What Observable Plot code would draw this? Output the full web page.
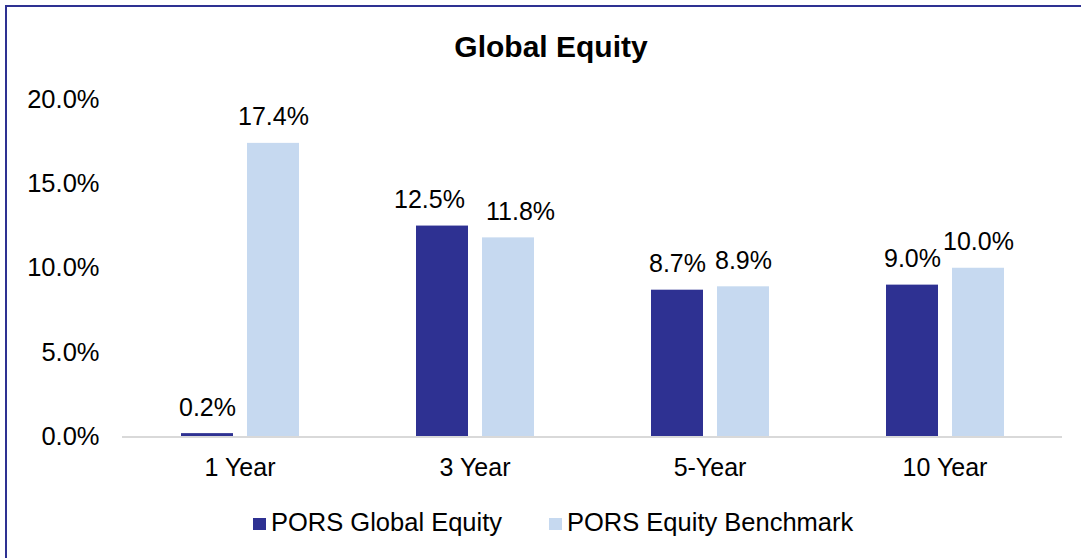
<!DOCTYPE html>
<html>
<head>
<meta charset="utf-8">
<script src="https://cdn.jsdelivr.net/npm/d3@7"></script>
<script src="https://cdn.jsdelivr.net/npm/@observablehq/plot@0.6"></script>
<style>
  html, body { margin: 0; padding: 0; background: #fff; }
  body { width: 1081px; height: 558px; overflow: hidden; position: relative; font-family: "Liberation Sans", Arial, sans-serif; }
  #frame { position: absolute; left: 5px; top: 5px; width: 1200px; height: 700px; border-left: 2px solid #2e3192; border-top: 2px solid #2e3192; box-sizing: border-box; }
  #title { position: absolute; left: 0; top: 32px; width: 1102px; text-align: center; font-size: 30px; line-height: 1; font-weight: bold; color: #000; }
  #chart { position: absolute; left: 0; top: 0; }
  .leg { position: absolute; top: 510px; font-size: 25.5px; line-height: 1; color: #000; white-space: nowrap; }
  .sw { position: absolute; top: 8px; left: 0; width: 13px; height: 12px; }
</style>
</head>
<body>
<div id="frame"></div>
<div id="title">Global Equity</div>
<div id="chart"></div>
<div id="legend"></div>
<script>
const categories = ["1 Year", "3 Year", "5-Year", "10 Year"];
const series = ["PORS Global Equity", "PORS Equity Benchmark"];
const globalEquity = [0.2, 12.5, 8.7, 9.0];
const benchmark = [17.4, 11.8, 8.9, 10.0];
const yTicks = [0, 5, 10, 15, 20];
const colors = ["#2e3192", "#c6d9f0"];

const data = [];
categories.forEach((c, i) => {
  data.push({cat: c, series: series[0], value: globalEquity[i]});
  data.push({cat: c, series: series[1], value: benchmark[i]});
});

const fmt = d => d.toFixed(1) + "%";

// label placement: Excel nudges the crowded "3 Year" labels apart
const isCrowded = d => d.cat === categories[1];
const labelOpts = (extra) => Object.assign({fx: "cat", x: "series", y: "value", text: d => fmt(d.value), lineAnchor: "bottom", dy: -18, fontSize: 25, fill: "#000"}, extra);

const chart = Plot.plot({
  width: 1081,
  height: 500,
  marginTop: 99,
  marginBottom: 63.5,
  marginLeft: 120,
  marginRight: 18,
  style: {fontFamily: "'Liberation Sans', Arial, sans-serif", background: "transparent", color: "#000", overflow: "visible"},
  fx: {domain: categories, padding: 0, label: null},
  x: {domain: series, paddingInner: 0.215, paddingOuter: 0.867, axis: null},
  y: {domain: [0, 20], label: null, axis: null},
  color: {domain: series, range: colors},
  marks: [
    Plot.barY(data, {fx: "cat", x: "series", y: "value", fill: "series"}),
    Plot.ruleY([0], {stroke: "#d9d9d9", strokeWidth: 2}),
    Plot.text(data.filter(d => !isCrowded(d)), labelOpts({})),
    Plot.text(data.filter(d => isCrowded(d) && d.series === series[0]), labelOpts({dx: -13})),
    Plot.text(data.filter(d => isCrowded(d) && d.series === series[1]), labelOpts({dx: 12})),
    Plot.axisY({ticks: yTicks, tickFormat: fmt, tickSize: 0, tickPadding: 23, fontSize: 25.5, label: null, fill: "#000"}),
    Plot.axisFx({anchor: "bottom", tickSize: 0, tickPadding: 21, fontSize: 25, label: null, fill: "#000"})
  ]
});
document.getElementById("chart").appendChild(chart);

const legendLefts = [253, 549];
const legend = document.getElementById("legend");
series.forEach((s, i) => {
  const item = document.createElement("div");
  item.className = "leg";
  item.style.left = legendLefts[i] + "px";
  const sw = document.createElement("span");
  sw.className = "sw";
  sw.style.background = colors[i];
  const t = document.createElement("span");
  t.textContent = s;
  t.style.marginLeft = "18px";
  item.appendChild(sw);
  item.appendChild(t);
  legend.appendChild(item);
});
</script>
</body>
</html>
